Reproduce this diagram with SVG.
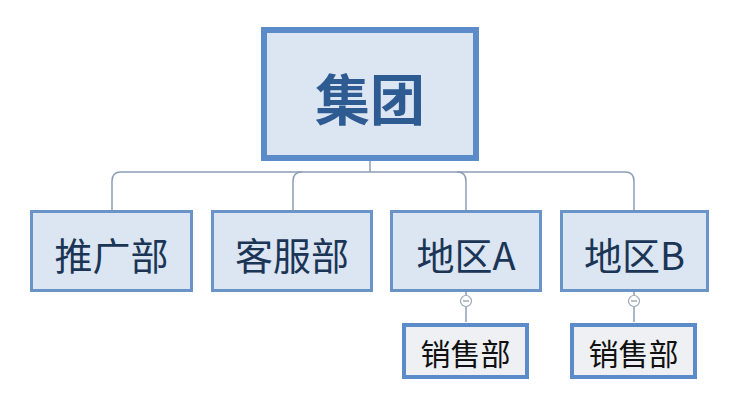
<svg xmlns="http://www.w3.org/2000/svg" width="744" height="418" viewBox="0 0 744 418">
<style>
.root rect{fill:#dce6f2;stroke:#5b8bc9;stroke-width:6}
.lvl1 rect{fill:#dce6f2;stroke:#6a93c8;stroke-width:3}
.lvl2 rect{fill:#eef0f4;stroke:#5b8bc9;stroke-width:4}
.t{font-family:"Noto Sans CJK SC","Liberation Sans",sans-serif;text-anchor:middle;dominant-baseline:central}
.conn{fill:none;stroke:#8a9db5;stroke-width:1.5}
.tog circle{fill:#ffffff;stroke:#9aa8b8;stroke-width:1.2}
.tog line{stroke:#8a96a4;stroke-width:1.2}
</style>
<rect width="744" height="418" fill="#ffffff"/>
<g id="connectors" class="conn">
<path d="M370 161 V172"/>
<path d="M112 210 V181 Q112 172 121 172 H625 Q634 172 634 181 V210"/>
<path d="M293 210 V181 Q293 172 302 172"/>
<path d="M466 210 V181 Q466 172 457 172"/>
<path d="M466 292 V295.5 M466 306.5 V322"/>
<path d="M634 292 V295.5 M634 306.5 V322"/>
</g>
<g id="root" class="root">
<rect x="264" y="30" width="212" height="128"/>
<text class="t" x="370" y="96" font-size="55" font-weight="bold" fill="#2f5b93">集团</text>
</g>
<g id="n-tuiguang" class="lvl1">
<rect x="31.5" y="211.5" width="160" height="79"/>
<text class="t" x="111.5" y="253" font-size="38" fill="#1b3556">推广部</text>
</g>
<g id="n-kefu" class="lvl1">
<rect x="212.5" y="211.5" width="159" height="79"/>
<text class="t" x="292" y="253" font-size="38" fill="#1b3556">客服部</text>
</g>
<g id="n-diqua" class="lvl1">
<rect x="391.5" y="211.5" width="149" height="79"/>
<text class="t" x="466" y="253" font-size="38" fill="#1b3556">地区A</text>
</g>
<g id="n-diqub" class="lvl1">
<rect x="561.5" y="211.5" width="146" height="79"/>
<text class="t" x="634.5" y="253" font-size="38" fill="#1b3556">地区B</text>
</g>
<g id="toggle-a" class="tog">
<circle cx="466" cy="301" r="5.5"/>
<line x1="463" y1="301" x2="469" y2="301"/>
</g>
<g id="toggle-b" class="tog">
<circle cx="634" cy="301" r="5.5"/>
<line x1="631" y1="301" x2="637" y2="301"/>
</g>
<g id="n-xiaoshou-a" class="lvl2">
<rect x="404" y="325" width="123" height="52"/>
<text class="t" x="465.5" y="352" font-size="30" fill="#111111">销售部</text>
</g>
<g id="n-xiaoshou-b" class="lvl2">
<rect x="572" y="325" width="123" height="52"/>
<text class="t" x="633.5" y="352" font-size="30" fill="#111111">销售部</text>
</g>
</svg>
